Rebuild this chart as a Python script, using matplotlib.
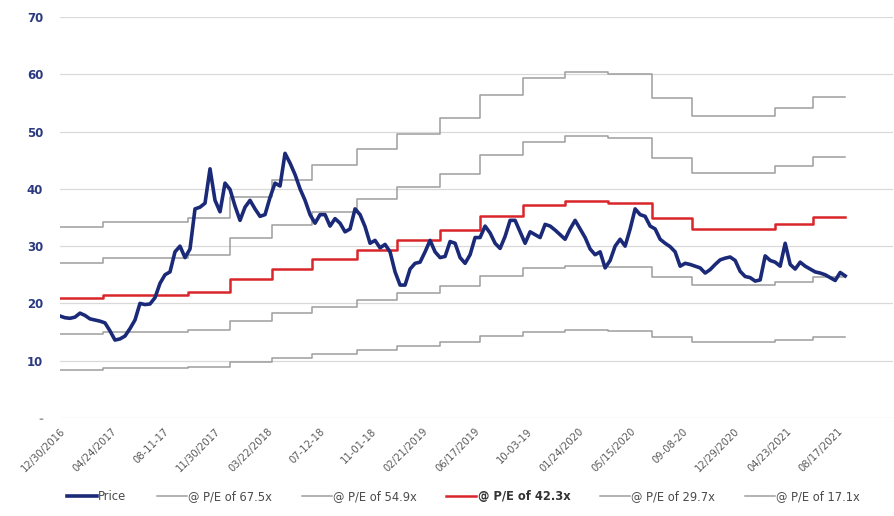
import numpy as np
import matplotlib
matplotlib.use('Agg')
from matplotlib import pyplot as plt
from matplotlib.lines import Line2D

# ---- data ----
n_days = 1182  # trading days 12/30/2016 .. early 09/2021

tick_labels = ['12/30/2016', '04/24/2017', '08-11-17', '11/30/2017', '03/22/2018',
               '07-12-18', '11-01-18', '02/21/2019', '06/17/2019', '10-03-19',
               '01/24/2020', '05/15/2020', '09-08-20', '12/29/2020', '04/23/2021',
               '08/17/2021']
tick_every = 78

# share price, sampled evenly over the trading days
price = [17.8, 17.5, 17.4, 17.6, 18.3, 17.9, 17.3, 17.1, 16.9, 16.6,
         15.2, 13.6, 13.8, 14.3, 15.6, 17.1, 20.0, 19.8, 19.9, 21.0,
         23.5, 25.0, 25.5, 29.0, 30.0, 28.0, 29.5, 36.5, 36.8, 37.5,
         43.5, 38.0, 36.0, 41.0, 39.9, 37.0, 34.5, 36.8, 38.0, 36.5,
         35.2, 35.5, 38.5, 41.0, 40.5, 46.2, 44.5, 42.5, 40.0, 38.0,
         35.5, 34.0, 35.5, 35.5, 33.5, 34.8, 34.0, 32.5, 33.0, 36.5,
         35.5, 33.4, 30.5, 31.0, 29.7, 30.3, 29.0, 25.5, 23.2, 23.2,
         26.0, 27.0, 27.2, 29.0, 31.0, 29.0, 28.0, 28.2, 30.8, 30.5,
         28.0, 27.0, 28.5, 31.5, 31.5, 33.5, 32.3, 30.5, 29.6, 31.7,
         34.5, 34.5, 32.5, 30.5, 32.5, 32.0, 31.5, 33.8, 33.5, 32.8,
         32.0, 31.2, 33.0, 34.5, 33.0, 31.5, 29.5, 28.5, 29.0, 26.2,
         27.5, 30.0, 31.2, 30.0, 33.0, 36.5, 35.5, 35.2, 33.5, 33.0,
         31.2, 30.5, 29.9, 29.0, 26.5, 27.0, 26.8, 26.5, 26.2, 25.3,
         25.9, 26.8, 27.6, 27.9, 28.1, 27.5, 25.6, 24.7, 24.5, 23.9,
         24.1, 28.3, 27.5, 27.2, 26.5, 30.5, 26.8, 26.0, 27.2, 26.5,
         26.0, 25.5, 25.3, 25.0, 24.5, 24.0, 25.4, 24.8]

# earnings per share, one value per quarter, and the day each one starts
eps_start_day = [0, 65, 193, 256, 319, 379, 447, 507, 572, 632, 697, 760,
                 825, 891, 951, 1013, 1076, 1133]
eps = [0.494, 0.508, 0.518, 0.572, 0.615, 0.655, 0.695, 0.735, 0.775,
       0.835, 0.879, 0.896, 0.889, 0.827, 0.780, 0.780, 0.801, 0.830]

multiples = [67.5, 54.9, 42.3, 29.7, 17.1]
highlight = 42.3

navy = '#1b2a78'
red = '#d9262b'
gray = '#9e9e9e'

fig = plt.figure(figsize=(8.95, 5.16), dpi=100)
ax = fig.add_axes([0.067, 0.19, 0.931, 0.777])

# step lines for each multiple
sx = np.array(eps_start_day + [n_days - 1])
for m in multiples:
    sy = np.array(eps + [eps[-1]]) * m
    if m == highlight:
        ax.step(sx, sy, where='post', color=red, lw=1.8, zorder=3)
    else:
        ax.step(sx, sy, where='post', color=gray, lw=1.1, zorder=2)

days = np.linspace(0, n_days - 1, len(price))
ax.plot(days, price, color=navy, lw=2.6, zorder=4, solid_joinstyle='round')

ax.set_ylim(0, 70)
x_right = (n_days - 1) * (893 - 60) / (845 - 60)
ax.set_xlim(0, x_right)
ax.set_yticks(range(0, 71, 10))
ax.set_yticklabels(['-'] + [str(v) for v in range(10, 71, 10)])
for i, t in enumerate(ax.get_yticklabels()):
    t.set_fontweight('bold')
    t.set_color('#9a9a9a' if i == 0 else '#2b3a80')
    t.set_fontsize(8.5)
ax.tick_params(axis='y', length=0, pad=12)

ax.set_xticks(np.arange(len(tick_labels)) * tick_every)
ax.set_xticklabels(tick_labels, rotation=45, ha='right', rotation_mode='anchor',
                   fontsize=7.2, color='#5a5a5a')
ax.tick_params(axis='x', length=0, pad=6)

ax.grid(axis='y', color='#d9d9d9', lw=0.9)
ax.set_axisbelow(True)
for s in ax.spines.values():
    s.set_visible(False)

handles = [Line2D([], [], color=navy, lw=2.6)]
labels = ['Price']
for m in multiples:
    if m == highlight:
        handles.append(Line2D([], [], color=red, lw=1.8))
    else:
        handles.append(Line2D([], [], color=gray, lw=1.1))
    labels.append('@ P/E of %.1fx' % m)
leg = fig.legend(handles, labels, loc='center', ncol=6, frameon=False,
                 bbox_to_anchor=(0.518, 0.037), fontsize=8.3, handlelength=2.6,
                 handletextpad=0.1, columnspacing=2.6)
for t, m in zip(leg.get_texts(), [None] + multiples):
    t.set_color('#4a4a4a')
    if m == highlight:
        t.set_fontweight('bold')
        t.set_color('#333333')

fig.savefig('out.png', dpi=100)
